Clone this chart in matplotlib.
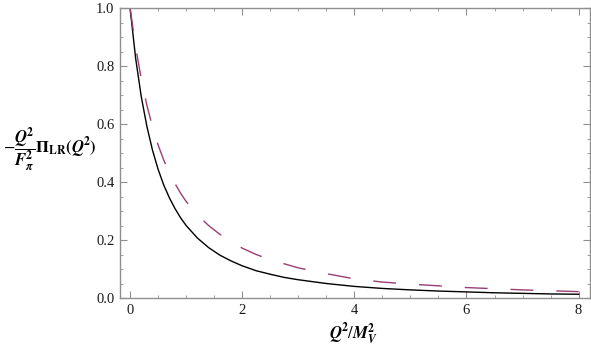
import numpy as np
import matplotlib
matplotlib.use("Agg")
import matplotlib.pyplot as plt
from matplotlib.ticker import MultipleLocator

plt.rcParams['font.family'] = ['Liberation Serif', 'DejaVu Serif']
plt.rcParams['mathtext.fontset'] = 'stix'

# values
x_vals = [0, 0.1, 0.2, 0.3, 0.4, 0.5, 0.6, 0.7, 0.8, 0.9, 1.0, 1.2, 1.4, 1.6,
          1.8, 2.0, 2.25, 2.5, 2.75, 3.0, 3.5, 4.0, 4.5, 5.0, 5.5, 6.0, 6.5,
          7.0, 7.5, 8.0]
solid_vals = [1.0, 0.826, 0.694, 0.592, 0.51, 0.444, 0.39, 0.346, 0.309, 0.277,
              0.25, 0.207, 0.174, 0.148, 0.128, 0.111, 0.094, 0.082, 0.071,
              0.063, 0.05, 0.04, 0.033, 0.028, 0.024, 0.021, 0.018, 0.016,
              0.014, 0.013]
dashed_vals = [1.0, 0.865, 0.755, 0.665, 0.59, 0.528, 0.476, 0.432, 0.395,
               0.362, 0.333, 0.287, 0.25, 0.22, 0.196, 0.172, 0.15, 0.132,
               0.118, 0.104, 0.084, 0.066, 0.055, 0.048, 0.042, 0.036, 0.032,
               0.028, 0.025, 0.022]

frame_col = '#8f8f8f'

fig = plt.figure(figsize=(5.91, 3.52), dpi=100)
ax = fig.add_axes([0.203, 0.1534, 0.795, 0.8236])

ax.plot(x_vals, solid_vals, color='black', lw=1.0)
ax.plot(x_vals, dashed_vals, color='#993d74', lw=1.0, dashes=(16.5, 16.5))

ax.set_xlim(-0.18, 8.2)
ax.set_ylim(0, 1)
ax.xaxis.set_major_locator(MultipleLocator(2))
ax.xaxis.set_minor_locator(MultipleLocator(0.5))
ax.yaxis.set_major_locator(MultipleLocator(0.2))
ax.yaxis.set_minor_locator(MultipleLocator(0.05))
ax.yaxis.set_major_formatter(lambda v, p: f"{v:.1f}")
ax.xaxis.set_major_formatter(lambda v, p: f"{v:.0f}")

ax.tick_params(which='both', direction='in', top=True, right=True,
               color=frame_col, labelsize=10.5, labelcolor='#1a1a1a')
ax.tick_params(which='major', length=5, width=0.8, pad=4)
ax.tick_params(which='minor', length=2.5, width=0.6)
for s in ax.spines.values():
    s.set_color(frame_col)
    s.set_linewidth(1.0)

fig.text(353 / 591, 1 - 334 / 352, r'$\mathbfit{Q}^\mathbf{2}/\mathbfit{M}_\mathbfit{V}^\mathbf{2}$',
         ha='center', va='center', fontsize=12)
fig.text(3 / 591, 1 - 150 / 352,
         r'$-\dfrac{\mathbfit{Q}^\mathbf{2}}{\mathbfit{F}_\mathbfit{\pi}^\mathbf{2}}'
         r'\mathbf{\Pi}_\mathbf{LR}\mathbf{(}\mathbfit{Q}^\mathbf{2}\mathbf{)}$',
         ha='left', va='center', fontsize=12)

fig.savefig("out.png", dpi=100)
